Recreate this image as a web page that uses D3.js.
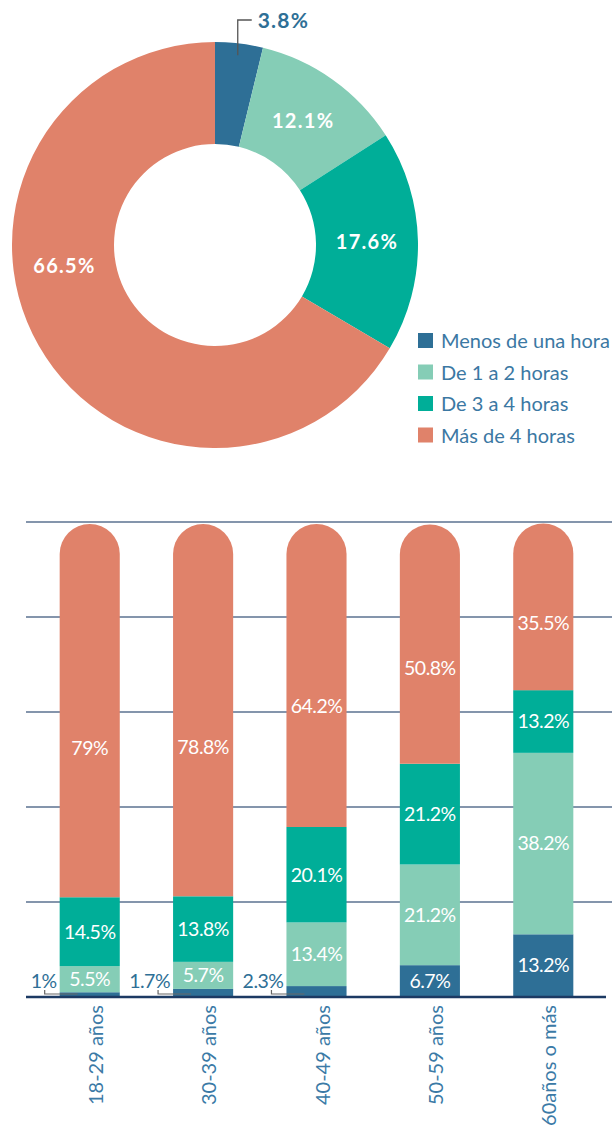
<!DOCTYPE html>
<html lang="es">
<head>
<meta charset="utf-8">
<title>Horas</title>
<script src="https://cdnjs.cloudflare.com/ajax/libs/d3/7.8.5/d3.min.js"></script>
<style>
  body { margin: 0; background: #fff; }
  text { font-family: Lato, "Noto Sans", sans-serif; }
</style>
</head>
<body>
<script>
// donut data
var categories = ["Menos de una hora", "De 1 a 2 horas", "De 3 a 4 horas", "Más de 4 horas"];
var totalValues = [3.8, 12.1, 17.6, 66.5];
var colors = ["#2e6f96", "#85cdb6", "#00ae98", "#e0826a"];

// stacked bars (one array per category, by age group)
var ageGroups = ["18-29 años", "30-39 años", "40-49 años", "50-59 años", "60años o más"];
var menos1 = [1, 1.7, 2.3, 6.7, 13.2];
var de1a2 = [5.5, 5.7, 13.4, 21.2, 38.2];
var de3a4 = [14.5, 13.8, 20.1, 21.2, 13.2];
var mas4 = [79, 78.8, 64.2, 50.8, 35.5];
var gridTicks = [0, 20, 40, 60, 80, 100];

var w = 612, h = 1126;
var svg = d3.select("body").append("svg").attr("width", w).attr("height", h);

// ---- donut ----
var cx = 215, cy = 245, rOut = 203, rIn = 101;
var pie = d3.pie().sort(null).value(function(d){ return d; });
var arc = d3.arc().innerRadius(rIn).outerRadius(rOut);
var arcs = pie(totalValues);
var gd = svg.append("g").attr("transform", "translate(" + cx + "," + cy + ")");
gd.selectAll("path").data(arcs).enter().append("path")
    .attr("d", arc)
    .attr("fill", function(d, i){ return colors[i]; });

// label position: centroid, big slice label pushed round toward the left side
function labelPos(d) {
    var a = (d.startAngle + d.endAngle) / 2;
    if (d.endAngle - d.startAngle > Math.PI) a += 0.38;
    var r = (rIn + rOut) / 2;
    return [Math.sin(a) * r, -Math.cos(a) * r];
}
gd.selectAll("text.lbl").data(arcs).enter().filter(function(d, i){ return i > 0; })
    .append("text")
    .attr("class", "lbl")
    .attr("x", function(d){ return labelPos(d)[0]; })
    .attr("y", function(d){ return labelPos(d)[1]; })
    .attr("dy", "0.35em")
    .attr("text-anchor", "middle")
    .attr("fill", "#fff")
    .attr("font-weight", "bold")
    .attr("font-size", 20)
    .attr("letter-spacing", 1.3)
    .text(function(d){ return d.data + "%"; });

// small slice callout
var a0 = arcs[0];
var mid = (a0.startAngle + a0.endAngle) / 2;
var px = Math.sin(mid) * (rOut - 12), py = -Math.cos(mid) * (rOut - 12);
var topY = -cy + 20;
gd.append("path")
    .attr("d", "M" + px + "," + py + "V" + topY + "H" + (px + 14))
    .attr("fill", "none").attr("stroke", "#555").attr("stroke-width", 1.3);
gd.append("text")
    .attr("x", px + 20).attr("y", topY + 1).attr("dy", "0.35em")
    .attr("fill", "#2e6f96").attr("font-weight", "bold").attr("font-size", 21)
    .attr("letter-spacing", 1.2)
    .text(totalValues[0] + "%");

// legend
var lg = svg.append("g").attr("transform", "translate(418,333)");
var li = lg.selectAll("g").data(categories).enter().append("g")
    .attr("transform", function(d, i){ return "translate(0," + (i * 31.5) + ")"; });
li.append("rect").attr("width", 15).attr("height", 15)
    .attr("fill", function(d, i){ return colors[i]; });
li.append("text").attr("x", 23).attr("y", 8).attr("dy", "0.35em")
    .attr("font-size", 20).attr("fill", "#3b78a3")
    .text(function(d){ return d; });

// ---- stacked bars ----
var y = d3.scaleLinear().domain([0, 100]).range([997, 522]);
var x = d3.scaleBand().domain(ageGroups).range([37, 596]).paddingInner(0.47).paddingOuter(0.2);

svg.append("g").selectAll("line").data(gridTicks.slice(1)).enter().append("line")
    .attr("x1", 26).attr("x2", w)
    .attr("y1", function(d){ return y(d); }).attr("y2", function(d){ return y(d); })
    .attr("stroke", "#5b7290").attr("stroke-width", 1.5);

var series = [menos1, de1a2, de3a4, mas4];
var rows = ageGroups.map(function(g, j){
    var o = { group: g };
    categories.forEach(function(c, k){ o[c] = series[k][j]; });
    return o;
});
var stack = d3.stack().keys(categories);
var stacked = stack(rows);

var bw = x.bandwidth();
stacked.forEach(function(layer, k){
    var g = svg.append("g");
    layer.forEach(function(seg, j){
        var x0 = x(ageGroups[j]);
        var yb = y(seg[0]), yt = y(seg[1]) + (k === 3 ? 2 : 0);
        if (k === 3) {
            var r = bw / 2;
            g.append("path")
                .attr("d", "M" + x0 + "," + yb + "V" + (yt + r) +
                    "A" + r + "," + r + " 0 0 1 " + (x0 + bw) + "," + (yt + r) +
                    "V" + yb + "Z")
                .attr("fill", colors[k]);
        } else {
            g.append("rect").attr("x", x0).attr("y", yt)
                .attr("width", bw).attr("height", yb - yt)
                .attr("fill", colors[k]);
        }
        var v = series[k][j];
        if (k === 0 && v < 5) {
            // outside label with bracket
            var ly = y(0) - 3;
            svg.append("text")
                .attr("x", x0 - 3).attr("y", 981).attr("dy", "0.35em")
                .attr("text-anchor", "end").attr("font-size", 19.5).attr("letter-spacing", -0.5)
                .attr("fill", "#2e6f96")
                .text(v + "%");
            svg.append("path")
                .attr("d", "M" + (x0 - 15) + ",990V" + ly + "H" + (x0 + 18))
                .attr("fill", "none").attr("stroke", "#666").attr("stroke-width", 1.2);
        } else {
            // top (rounded) segment labels sit a bit below the middle
            var f = k === 3 ? 0.6 : 0.5;
            svg.append("text")
                .attr("x", x0 + bw / 2)
                .attr("y", yt + (yb - yt) * f)
                .attr("dy", "0.35em")
                .attr("text-anchor", "middle").attr("font-size", 19.5).attr("letter-spacing", -0.5)
                .attr("fill", "#fff")
                .text(v + "%");
        }
    });
});

svg.append("line").attr("x1", 26).attr("x2", 606)
    .attr("y1", y(0)).attr("y2", y(0))
    .attr("stroke", "#1c3a63").attr("stroke-width", 2.5);

svg.append("g").selectAll("text").data(ageGroups).enter().append("text")
    .attr("transform", function(d){ return "translate(" + (x(d) + bw / 2 + 6) + ",1005) rotate(-90)"; })
    .attr("text-anchor", "end").attr("dy", "0.35em")
    .attr("font-size", 20).attr("fill", "#3b7aa6")
    .text(function(d){ return d; });
</script>
</body>
</html>
